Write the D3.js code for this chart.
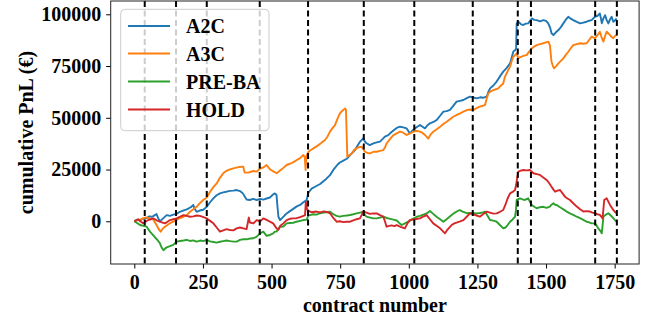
<!DOCTYPE html>
<html>
<head>
<meta charset="utf-8">
<script src="https://cdn.jsdelivr.net/npm/d3@7"></script>
<style>
  html, body { margin: 0; padding: 0; background: #fff; }
  svg { display: block; }
  text { font-family: "Liberation Serif", "Times New Roman", serif; font-weight: bold; fill: #000; }
</style>
</head>
<body>
<svg id="chart" width="662" height="320"></svg>
<script>
// Strategy names (legend order) and colours
const seriesNames = ["A2C", "A3C", "PRE-BA", "HOLD"];
const seriesColors = ["#1f77b4", "#ff7f0e", "#2ca02c", "#d62728"];

// Cumulative PnL per strategy: [contract number, PnL in EUR]
const a2c = [[0,0],[10,800],[20,300],[30,1200],[45,1600],[55,2400],[65,2200],[75,3000],[81,3500],[87,1500],[93,0],[100,800],[110,2000],[118,3000],[130,2600],[142,3200],[154,3600],[166,4600],[178,5200],[191,5800],[200,6400],[208,7000],[215,7900],[220,6000],[227,4600],[238,5200],[251,5600],[264,7000],[276,9200],[288,11100],[300,12600],[312,13500],[324,14000],[336,14300],[348,14700],[361,14800],[373,15100],[385,14600],[395,13600],[403,11800],[409,10500],[421,10300],[433,10800],[446,10300],[458,10800],[470,10500],[482,11000],[494,11500],[506,13000],[512,13500],[518,12800],[521,8000],[525,2200],[531,600],[540,1800],[548,2900],[555,3800],[567,4900],[579,6000],[592,7200],[604,7900],[616,9200],[628,10300],[634,13800],[646,15800],[660,16800],[677,18000],[690,19500],[700,20600],[713,22300],[725,24800],[740,27300],[749,28400],[760,29200],[774,30200],[786,32000],[795,33200],[804,34400],[813,36500],[822,38400],[834,40100],[840,38500],[846,37700],[858,36800],[871,37600],[883,38100],[895,38500],[905,39800],[913,40900],[925,41600],[932,42500],[945,44000],[956,45100],[968,45700],[980,45400],[992,44900],[1000,43200],[1004,42500],[1013,43800],[1023,44900],[1032,45800],[1041,46500],[1050,45700],[1059,44900],[1068,46400],[1077,47300],[1090,48000],[1102,49000],[1114,51000],[1126,53000],[1138,53200],[1150,53800],[1162,55800],[1174,57800],[1186,58200],[1199,58600],[1211,59500],[1223,60200],[1235,59800],[1247,59400],[1260,59900],[1272,59700],[1284,60200],[1290,62500],[1296,64200],[1308,65600],[1320,67500],[1332,70000],[1344,72300],[1356,74000],[1369,76300],[1381,82000],[1388,82700],[1391,83500],[1393,95600],[1399,96400],[1408,95300],[1417,94800],[1426,95500],[1435,95600],[1448,98000],[1457,97300],[1466,97200],[1478,96600],[1490,97200],[1500,96800],[1508,95600],[1515,93500],[1520,90800],[1527,90000],[1536,91300],[1545,92400],[1554,93800],[1563,95600],[1572,97400],[1581,98800],[1590,97900],[1599,97200],[1612,96300],[1624,95600],[1636,96000],[1648,96400],[1657,96900],[1666,97200],[1678,98800],[1688,99300],[1696,100400],[1700,98000],[1703,95700],[1709,98000],[1715,99600],[1721,97200],[1727,95600],[1733,97500],[1739,98800],[1745,96400],[1751,97000],[1757,98000]];

const a3c = [[0,0],[10,500],[21,700],[33,1500],[45,1900],[57,1300],[69,900],[81,-1800],[90,-4000],[96,-5000],[104,-3500],[112,-2600],[130,-900],[142,-200],[154,600],[166,1600],[179,2200],[191,3000],[203,4600],[215,5800],[227,7000],[239,8800],[251,10300],[264,11500],[276,14300],[288,16500],[300,18300],[312,21000],[324,23200],[336,24400],[346,25000],[361,25600],[380,26200],[397,26400],[400,24500],[403,23500],[415,23500],[434,24300],[446,24000],[458,25500],[470,26000],[482,27200],[495,25000],[508,24000],[519,23200],[531,24500],[543,25800],[555,27200],[567,27800],[580,28600],[592,29600],[604,30500],[616,32000],[621,31000],[624,24800],[627,31500],[634,33500],[643,34400],[652,35200],[664,36200],[677,37400],[686,38400],[695,39300],[704,41000],[713,43300],[722,45000],[731,46500],[740,49500],[749,52100],[758,53400],[768,54500],[771,53800],[773,45000],[776,31200],[784,32000],[792,32800],[801,34500],[810,35200],[818,35800],[828,36000],[834,35000],[840,33600],[850,33000],[859,32800],[871,33600],[883,33600],[895,34000],[907,34400],[913,35600],[919,37600],[932,39800],[944,41600],[956,42500],[968,43300],[980,42800],[992,41700],[1004,42400],[1017,43300],[1029,43700],[1041,43300],[1050,42700],[1059,41700],[1066,40700],[1071,40000],[1080,42000],[1089,43300],[1102,44500],[1114,45700],[1126,47000],[1138,48100],[1150,49300],[1162,50500],[1175,51400],[1187,52100],[1199,53000],[1211,53700],[1223,54000],[1235,53700],[1247,54700],[1259,55400],[1270,55800],[1278,56200],[1284,59500],[1290,61800],[1299,62800],[1308,63400],[1317,63800],[1326,64200],[1335,65500],[1344,66600],[1350,69800],[1360,72500],[1369,74700],[1375,77500],[1381,79500],[1387,80300],[1393,81100],[1399,78700],[1405,79300],[1411,79500],[1420,80000],[1429,80300],[1438,81800],[1448,83500],[1457,84400],[1466,85100],[1478,85600],[1490,86000],[1500,86400],[1508,86800],[1514,85100],[1517,81000],[1520,77100],[1525,75000],[1529,73900],[1537,75000],[1545,76300],[1554,77500],[1563,78700],[1572,80400],[1581,81900],[1590,83600],[1599,85100],[1612,85600],[1624,86000],[1636,85800],[1648,86000],[1657,87600],[1666,89200],[1678,88400],[1687,89800],[1696,91600],[1702,89000],[1709,86800],[1715,89500],[1721,91600],[1727,90800],[1733,90000],[1739,89000],[1745,88400],[1751,89500],[1757,90000]];

const preBa = [[0,0],[10,-800],[21,-1800],[33,-2200],[45,-2600],[51,-3800],[57,-5000],[66,-6300],[75,-7700],[84,-9000],[93,-10600],[100,-12800],[106,-14000],[112,-13200],[118,-12600],[130,-12000],[142,-11400],[154,-9800],[166,-9500],[179,-9300],[191,-9000],[203,-9500],[215,-9200],[227,-9800],[240,-9300],[252,-9600],[264,-9000],[276,-9700],[288,-10000],[300,-10300],[312,-9900],[324,-9600],[336,-9300],[349,-9600],[361,-9800],[373,-9800],[385,-9000],[397,-8700],[409,-8700],[422,-8300],[434,-8200],[446,-7400],[458,-5800],[470,-5000],[482,-7000],[494,-6600],[506,-5800],[512,-5000],[518,-5000],[531,-2600],[543,-2500],[555,-1000],[567,-800],[579,-700],[591,-200],[604,200],[616,600],[628,800],[634,2800],[640,3000],[652,3400],[664,3200],[677,3900],[690,4200],[701,4400],[713,4600],[725,3400],[737,2600],[749,2250],[761,2600],[774,2800],[786,3050],[798,3400],[810,3800],[822,4200],[834,4600],[840,3000],[846,2250],[859,1800],[871,1400],[883,1400],[895,1800],[907,2200],[920,1600],[932,1200],[944,800],[956,400],[965,-800],[974,-1800],[986,-1000],[998,-200],[1010,800],[1020,1600],[1029,2200],[1041,2600],[1053,3200],[1065,3800],[1077,5000],[1089,3600],[1101,2200],[1114,1000],[1126,-200],[1141,1400],[1156,3000],[1168,4200],[1178,5000],[1186,5400],[1199,4500],[1211,3900],[1223,4000],[1235,3900],[1247,3800],[1259,4000],[1270,4300],[1278,4600],[1287,2700],[1296,600],[1308,300],[1320,-200],[1332,-1800],[1344,-3400],[1352,-3000],[1360,-1800],[1369,-200],[1378,900],[1387,2200],[1390,5000],[1393,10300],[1405,11100],[1414,10600],[1423,10300],[1435,11100],[1441,9500],[1448,7900],[1457,7000],[1466,6300],[1478,6800],[1490,7000],[1502,6500],[1514,7100],[1520,8000],[1527,8700],[1533,8000],[1539,7900],[1548,7000],[1557,6300],[1566,5500],[1575,4700],[1587,3800],[1599,3100],[1612,2200],[1624,1500],[1636,700],[1648,-200],[1657,-500],[1666,-1000],[1678,-1000],[1684,-2000],[1690,-3400],[1697,-4500],[1703,-5800],[1706,-2000],[1709,2300],[1718,3200],[1727,3900],[1736,2800],[1745,1500],[1751,600],[1757,-200]];

const hold = [[0,0],[8,500],[15,1000],[24,-200],[33,-1000],[42,-100],[51,600],[60,1000],[69,1400],[81,500],[93,-200],[103,-600],[112,-1000],[121,-200],[130,600],[142,1000],[154,1400],[166,2200],[179,3000],[191,2600],[203,2200],[215,2400],[227,2800],[239,2600],[252,2000],[264,1400],[276,200],[288,-1000],[300,-3000],[312,-5000],[324,-4400],[336,-3800],[348,-4200],[361,-4400],[373,-3400],[385,-3000],[397,-3400],[409,-3800],[413,-1000],[417,1800],[421,-600],[434,-1000],[446,600],[458,-100],[470,1400],[482,650],[494,-200],[506,-1000],[518,-3400],[525,-4100],[531,-2300],[543,-1000],[555,600],[567,1200],[579,1400],[591,1500],[604,2000],[616,2600],[622,3000],[625,9500],[629,6000],[634,5000],[646,4400],[664,4700],[677,4300],[690,4800],[701,4500],[713,3850],[725,1600],[737,-200],[749,0],[761,-400],[774,-200],[786,-200],[798,400],[810,1000],[822,1440],[828,3000],[834,4660],[846,4200],[858,3600],[871,3800],[883,3850],[895,3000],[907,2250],[913,0],[919,-2600],[929,-2200],[937,-2000],[947,-2300],[956,-1800],[966,-2400],[977,-3000],[986,-3400],[995,-1000],[1004,600],[1014,800],[1023,1000],[1032,1200],[1041,1400],[1053,2300],[1065,3000],[1077,1000],[1089,-1000],[1100,-2000],[1114,-3400],[1123,-4600],[1132,-5800],[1141,-4000],[1156,-1800],[1166,-1000],[1174,-600],[1187,0],[1199,600],[1211,2200],[1223,3850],[1235,3300],[1247,2800],[1259,2250],[1270,3400],[1284,4660],[1296,4200],[1308,3700],[1320,3850],[1332,4600],[1344,5460],[1352,8000],[1360,11000],[1369,13500],[1378,14200],[1387,15120],[1391,17500],[1395,21000],[1399,24000],[1408,24500],[1417,24800],[1429,24600],[1441,24800],[1448,24000],[1454,23200],[1466,22800],[1478,22400],[1490,21200],[1502,20000],[1511,18500],[1520,16700],[1527,15300],[1533,14300],[1542,14800],[1551,15100],[1560,13500],[1569,11900],[1578,11000],[1587,10300],[1599,8700],[1612,7100],[1624,5800],[1636,4700],[1648,4900],[1660,4700],[1669,4200],[1678,3900],[1687,3400],[1696,3100],[1701,2300],[1706,1400],[1709,6000],[1712,10300],[1721,11100],[1727,9500],[1733,7900],[1739,6700],[1745,5500],[1751,4500],[1757,3900]];

const seriesData = [a2c, a3c, preBa, hold];

// Contract numbers where a new contract period begins
const periodBreaks = [38, 152, 264, 457, 633, 836, 1020, 1233, 1397, 1445, 1679, 1758];

// Axis ticks
const xTicks = [0, 250, 500, 750, 1000, 1250, 1500, 1750];
const yTicks = [0, 25000, 50000, 75000, 100000];

const svg = d3.select("#chart");
const plot = { left: 110.7, right: 639.1, top: 1, bottom: 264 };

const x = d3.scaleLinear().domain([-86, 1839]).range([plot.left, plot.right]);
const y = d3.scaleLinear().domain([-20630, 106420]).range([plot.bottom, plot.top]);

// Series lines
const line = d3.line().x(d => x(d[0])).y(d => y(d[1]));
const g = svg.append("g");
seriesData.forEach((s, i) => {
  g.append("path")
    .datum(s)
    .attr("d", line)
    .attr("fill", "none")
    .attr("stroke", seriesColors[i])
    .attr("stroke-width", 1.9)
    .attr("stroke-linejoin", "round");
});

// Period boundaries
svg.append("g").selectAll("line")
  .data(periodBreaks)
  .join("line")
  .attr("x1", d => x(d)).attr("x2", d => x(d))
  .attr("y1", plot.top).attr("y2", plot.bottom)
  .attr("stroke", "#000")
  .attr("stroke-width", 2)
  .attr("stroke-dasharray", "6,3.5");

// Axes
const xAxis = d3.axisBottom(x).tickValues(xTicks).tickSize(4.5).tickPadding(6).tickFormat(d3.format("d"));
const yAxis = d3.axisLeft(y).tickValues(yTicks).tickSize(4.5).tickPadding(5).tickFormat(d3.format("d"));

const gx = svg.append("g").attr("transform", `translate(0,${plot.bottom})`).call(xAxis);
const gy = svg.append("g").attr("transform", `translate(${plot.left},0)`).call(yAxis);
[gx, gy].forEach(a => {
  a.select(".domain").remove();
  a.selectAll(".tick line").attr("stroke", "#000").attr("stroke-width", 1);
  a.selectAll(".tick text")
    .style("font-family", '"Liberation Serif", "Times New Roman", serif')
    .style("font-weight", "bold")
    .style("font-size", "20px")
    .attr("fill", "#000");
});

// Frame
svg.append("rect")
  .attr("x", plot.left).attr("y", plot.top)
  .attr("width", plot.right - plot.left).attr("height", plot.bottom - plot.top)
  .attr("fill", "none").attr("stroke", "#222").attr("stroke-width", 1);

// Axis titles
svg.append("text")
  .attr("x", (plot.left + plot.right) / 2).attr("y", 311.5)
  .attr("text-anchor", "middle")
  .style("font-size", "20px")
  .text("contract number");

svg.append("text")
  .attr("transform", `translate(32.5,${(plot.top + plot.bottom) / 2}) rotate(-90)`)
  .attr("text-anchor", "middle")
  .style("font-size", "20px")
  .text("cumulative PnL (€)");

// Legend
const legend = svg.append("g");
legend.append("rect")
  .attr("x", 120.7).attr("y", 9.3)
  .attr("width", 148.3).attr("height", 121.4)
  .attr("rx", 4).attr("ry", 4)
  .attr("fill", "#fff").attr("fill-opacity", 0.8)
  .attr("stroke", "#ccc").attr("stroke-width", 1);
const rowY = [26, 53.5, 81.5, 109.5];
seriesNames.forEach((name, i) => {
  legend.append("line")
    .attr("x1", 128).attr("x2", 170)
    .attr("y1", rowY[i]).attr("y2", rowY[i])
    .attr("stroke", seriesColors[i]).attr("stroke-width", 1.9);
  legend.append("text")
    .attr("x", 186).attr("y", rowY[i] + 7)
    .style("font-size", "20px")
    .text(name);
});
</script>
</body>
</html>
